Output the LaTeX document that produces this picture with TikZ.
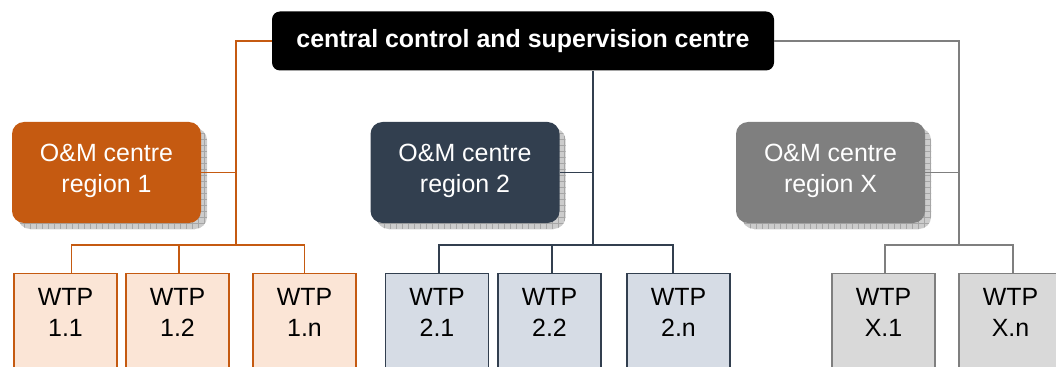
\documentclass[tikz,border=0pt]{standalone}
\usepackage{fontspec}
\setmainfont{Liberation Sans}
\usetikzlibrary{shadows,patterns.meta}

\definecolor{omorange}{HTML}{C55A11}
\definecolor{omnavy}{HTML}{323F4F}
\definecolor{omgray}{HTML}{7F7F7F}
\definecolor{wtporange}{HTML}{FBE5D6}
\definecolor{wtpnavy}{HTML}{D6DCE5}
\definecolor{wtpgray}{HTML}{D9D9D9}

\tikzset{
    ccsc/.style={fill=black, text=white, rounded corners=6pt, minimum width=376.5pt,
        minimum height=44.25pt, inner sep=0pt, font=\fontsize{18.7}{23.25}\selectfont\bfseries},
    omcentre/.style={text=white, rounded corners=9pt, minimum width=141.75pt,
        minimum height=75.75pt, inner sep=0pt, align=center, text depth=7pt,
        font=\fontsize{18.7}{23.25}\selectfont,
        drop shadow={shadow xshift=4.5pt, shadow yshift=-4.5pt, opacity=1, fill=gray!40},
        drop shadow={shadow xshift=4.5pt, shadow yshift=-4.5pt, opacity=1,
            pattern={Hatch[distance=4.5pt, angle=0, line width=0.4pt]}, pattern color=gray!70}},
    wtpbox/.style={line width=1.1pt, anchor=north, minimum width=77.25pt, inner xsep=0pt,
        inner ysep=11.25pt, text depth=70pt, align=center,
        font=\fontsize{18.7}{23.25}\selectfont},
    link/.style={line width=1.1pt}
}
\newcommand{\wtp}[5]{ \node[wtpbox, draw=#3, fill=#4] (#1) at (#2,273) {WTP\\#5};}

\begin{document}
\begin{tikzpicture}[x=0.75pt, y=-0.75pt]
        \useasboundingbox (0,0) rectangle (1056,367);

        % centres
        \node[ccsc] (ccsc) at (523,41) {central control and supervision centre};
        \node[omcentre, fill=omorange] (om1) at (106.5,172.5) {O\&M centre\\region 1};
        \node[omcentre, fill=omnavy] (om2) at (465,172.5) {O\&M centre\\region 2};
        \node[omcentre, fill=omgray] (omx) at (830.5,172.5) {O\&M centre\\region X};

        % plants
        \wtp{wtp11}{65.5}{omorange}{wtporange}{1.1}
        \wtp{wtp12}{177.5}{omorange}{wtporange}{1.2}
        \wtp{wtp1n}{304.5}{omorange}{wtporange}{1.n}
        \wtp{wtp21}{437}{omnavy}{wtpnavy}{2.1}
        \wtp{wtp22}{549.5}{omnavy}{wtpnavy}{2.2}
        \wtp{wtp2n}{678.5}{omnavy}{wtpnavy}{2.n}
        \wtp{wtpx1}{883.5}{omgray}{wtpgray}{X.1}
        \wtp{wtpxn}{1010.5}{omgray}{wtpgray}{X.n}

        % bus points
        \coordinate (b1) at (236,245);
        \coordinate (b2) at (593,245);
        \coordinate (bx) at (959,245);

        % region 1
        \draw[link, omorange] (ccsc.west) -| (b1);
        \draw[link, omorange] (om1.east) -- (om1.east -| b1);
        \draw[link, omorange] ([xshift=4.5pt]wtp11.north) |- (b1) -| (wtp1n.north);
        \draw[link, omorange] ([xshift=1pt]wtp12.north) -- ([xshift=1pt]wtp12.north |- b1);

        % region 2
        \draw[link, omnavy] (ccsc.south -| b2) -- (b2);
        \draw[link, omnavy] (om2.east) -- (om2.east -| b2);
        \draw[link, omnavy] ([xshift=1.5pt]wtp21.north) |- (b2) -| ([xshift=-4pt]wtp2n.north);
        \draw[link, omnavy] ([xshift=2pt]wtp22.north) -- ([xshift=2pt]wtp22.north |- b2);

        % region X
        \draw[link, omgray] (ccsc.east) -| (bx);
        \draw[link, omgray] (omx.east) -- (omx.east -| bx);
        \draw[link, omgray] ([xshift=1pt]wtpx1.north) |- (bx) -| ([xshift=2pt]wtpxn.north);
    \end{tikzpicture}
\end{document}
